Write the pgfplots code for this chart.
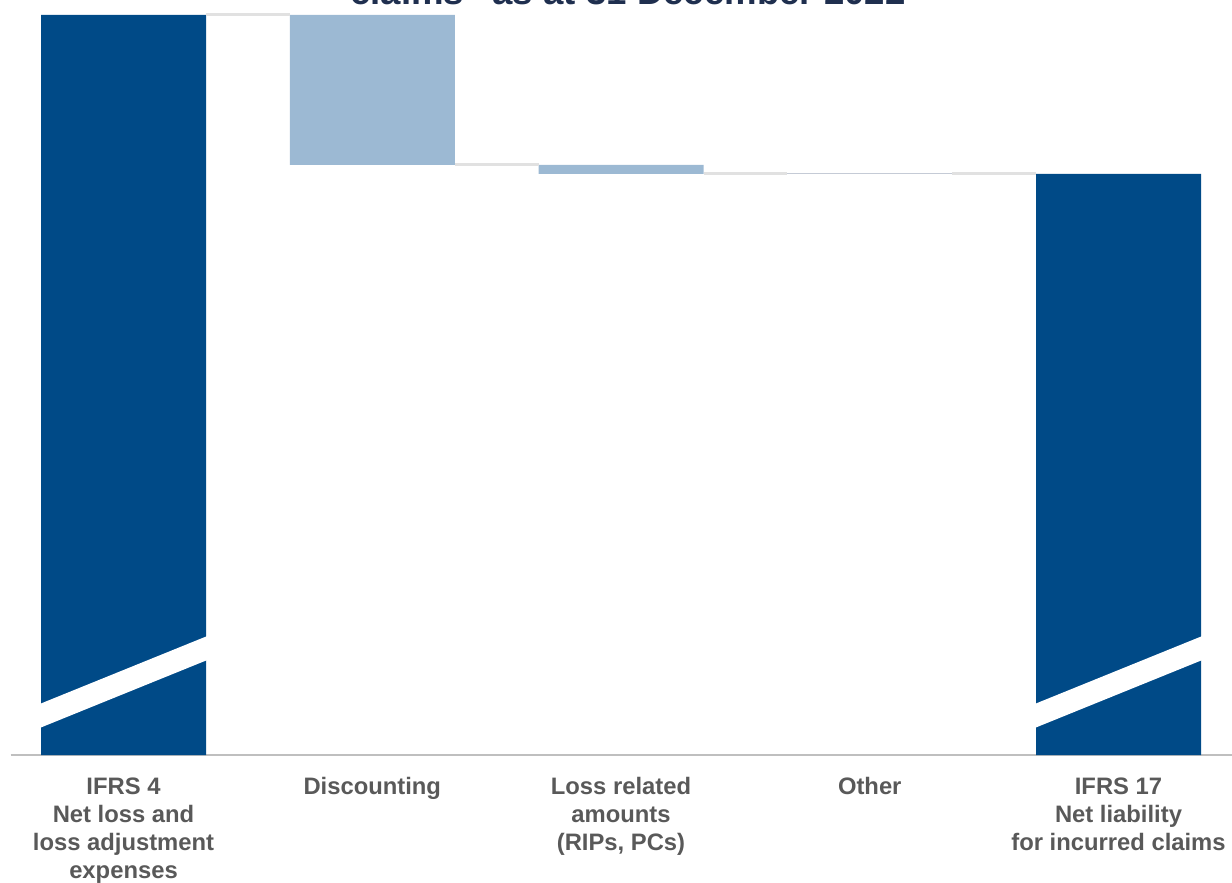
\documentclass[border=0pt]{standalone}
\usepackage{fontspec}
\setmainfont{Liberation Sans}
\usepackage{pgfplots}
\pgfplotsset{compat=1.18}
\definecolor{darkb}{HTML}{004A87}
\definecolor{lightb}{HTML}{9CB9D3}
\definecolor{otherc}{HTML}{C5CBD6}
\definecolor{conn}{HTML}{E1E1E1}
\definecolor{axg}{HTML}{BFBFBF}
\definecolor{labg}{HTML}{595959}
\definecolor{titc}{HTML}{1F2F4F}
\pgfplotsset{common/.style={scale only axis, width=610.65pt, height=377.5pt,
  xmin=-0.4535, xmax=4.4563, ymin=0, ymax=755, clip=false}}
\begin{document}
\begin{tikzpicture}
\begin{axis}[common, name=ax, ybar stacked, bar width=82.5pt,
  axis x line*=bottom, axis y line=none,
  x axis line style={draw=axg, line width=0.6pt, -},
  xtick={0,1,2,3,4}, major tick length=0pt, ytick=\empty,
  xticklabels={{IFRS 4\\Net loss and\\loss adjustment\\expenses},
               {Discounting},
               {Loss related\\amounts\\(RIPs, PCs)},
               {Other},
               {IFRS 17\\Net liability\\for incurred claims}},
  xticklabel style={align=center, font=\fontsize{11.9}{14}\selectfont\bfseries,
    text=labg, anchor=north, inner sep=0pt, yshift=-11pt}]
\addplot[fill=none, draw=none] coordinates {(0,0)(1,590)(2,581)(3,580.5)(4,0)};
\addplot[fill=darkb, draw=none] coordinates {(0,740)(1,0)(2,0)(3,0)(4,581)};
\addplot[fill=lightb, draw=none] coordinates {(0,0)(1,150)(2,9)(3,0)(4,0)};
\addplot[fill=otherc, draw=none] coordinates {(0,0)(1,0)(2,0)(3,1)(4,0)};
\end{axis}
\begin{axis}[common, hide axis]
\addplot[conn, line width=1.5pt] coordinates {(0.3317,740)(0.6683,740)};
\addplot[conn, line width=1.5pt] coordinates {(1.3317,590)(1.6683,590)};
\addplot[conn, line width=1.5pt] coordinates {(2.3317,581)(2.6683,581)};
\addplot[conn, line width=1.5pt] coordinates {(3.3317,581)(3.6683,581)};
\addplot[fill=white, draw=none] coordinates {(-0.34,26.7)(-0.34,50.7)(0.34,119.3)(0.34,95.3)} -- cycle;
\addplot[fill=white, draw=none] coordinates {(3.66,26.7)(3.66,50.7)(4.34,119.3)(4.34,95.3)} -- cycle;
\node[anchor=base, font=\fontsize{18.3}{20}\selectfont\bfseries, text=titc] at (axis cs:2.028,750.5) {claims” as at 31 December 2022};
\end{axis}
\pgfresetboundingbox
\useasboundingbox ([xshift=-5.35pt,yshift=-63.5pt]ax.south west) rectangle (ax.north east);
\end{tikzpicture}
\end{document}
